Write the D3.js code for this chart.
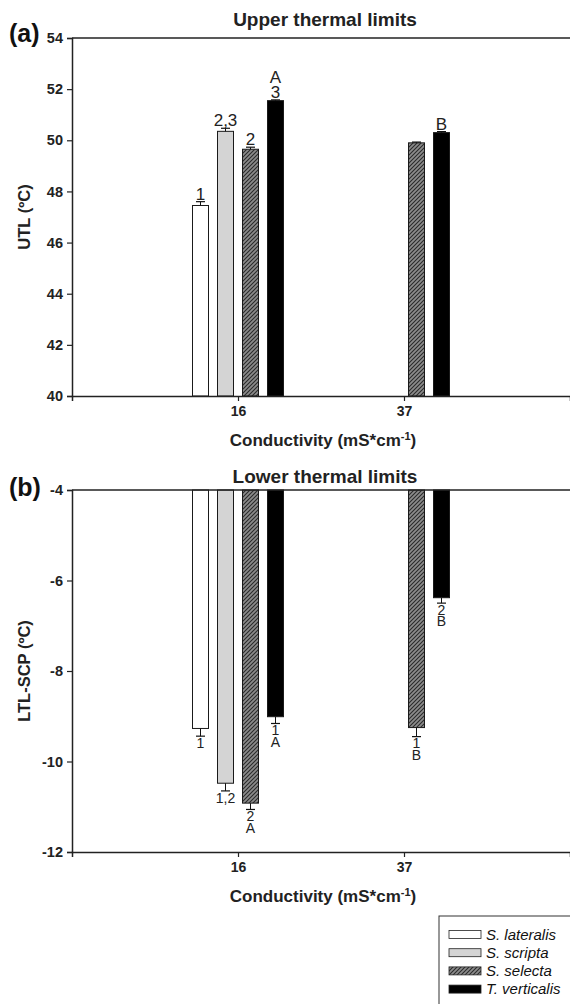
<!DOCTYPE html>
<html>
<head>
<meta charset="utf-8">
<script src="https://cdn.jsdelivr.net/npm/d3@7"></script>
<style>
  body { margin: 0; background: #fff; }
  svg { font-family: "Liberation Sans", Arial, sans-serif; }
</style>
</head>
<body>
<div id="chart"></div>
<script>
// data
var conductivity = [16, 37];
var species = ["S. lateralis", "S. scripta", "S. selecta", "T. verticalis"];

// upper thermal limits, one row per conductivity
var utlMean = [[47.45, 50.35, 49.65, 51.55], [null, null, 49.9, 50.3]];
var utlErr = [[0.15, 0.12, 0.08, 0.03], [null, null, 0.03, 0.04]];
var utlLabels = [[["1"], ["2,3"], ["2"], ["A", "3"]], [[], [], [], ["B"]]];
var utlTicks = [40, 42, 44, 46, 48, 50, 52, 54];

// lower thermal limits
var ltlMean = [[-9.27, -10.48, -10.92, -9.01], [null, null, -9.25, -6.38]];
var ltlErr = [[0.17, 0.17, 0.14, 0.15], [null, null, 0.2, 0.12]];
var ltlLabels = [[["1"], ["1,2"], ["2", "A"], ["1", "A"]], [[], [], ["1", "B"], ["2", "B"]]];
var ltlTicks = [-12, -10, -8, -6, -4];

var W = 570, H = 1004;
var svg = d3.select("#chart").append("svg")
  .attr("width", W).attr("height", H);

// hatch pattern for S. selecta
var defs = svg.append("defs");
var pat = defs.append("pattern")
  .attr("id", "hatch")
  .attr("patternUnits", "userSpaceOnUse")
  .attr("width", 4).attr("height", 4);
pat.append("rect").attr("width", 4).attr("height", 4).attr("fill", "#8c8c8c");
pat.append("path").attr("d", "M-1,1 l2,-2 M0,4 l4,-4 M3,5 l2,-2")
  .attr("stroke", "#2a2a2a").attr("stroke-width", 1.1);

var fills = ["#ffffff", "#d4d4d4", "url(#hatch)", "#000000"];

var left = 72, right = 570;
var x = d3.scaleLinear().domain([-5, 58]).range([left, right]);
var slot = d3.scaleBand().domain(d3.range(4)).range([-50, 50]).paddingInner(0.36).paddingOuter(0.18);

function drawPanel(opts) {
  var g = svg.append("g");
  var y = d3.scaleLinear().domain(opts.domain).range([opts.bottom, opts.top]);
  var base = opts.base;

  // bars
  conductivity.forEach(function(c, ci) {
    species.forEach(function(s, si) {
      var v = opts.mean[ci][si];
      if (v === null) return;
      var bx = x(c) + slot(si);
      var bw = slot.bandwidth();
      var y0 = y(base), y1 = y(v);
      g.append("rect")
        .attr("x", bx).attr("y", Math.min(y0, y1))
        .attr("width", bw).attr("height", Math.abs(y1 - y0))
        .attr("fill", fills[si])
        .attr("stroke", "#1a1a1a").attr("stroke-width", 1);
      // error bar
      var e = opts.err[ci][si];
      var ye = y(v + opts.dir * e);
      var cx = bx + bw / 2;
      g.append("line").attr("x1", cx).attr("x2", cx).attr("y1", y1).attr("y2", ye)
        .attr("stroke", "#111").attr("stroke-width", 1);
      g.append("line").attr("x1", cx - 4.5).attr("x2", cx + 4.5).attr("y1", ye).attr("y2", ye)
        .attr("stroke", "#111").attr("stroke-width", 1.2);
      // significance letters
      var lines = opts.labels[ci][si];
      lines.forEach(function(t, li) {
        var ty;
        if (opts.dir > 0) ty = ye - 2 - (lines.length - 1 - li) * opts.lineStep;
        else ty = ye + 1.5 + opts.fontSize * 0.74 + li * opts.lineStep;
        g.append("text").attr("x", cx).attr("y", ty)
          .attr("text-anchor", "middle")
          .attr("font-size", opts.fontSize + "px")
          .attr("fill", "#222")
          .text(t);
      });
    });
  });

  // frame lines
  g.append("line").attr("x1", left).attr("x2", right).attr("y1", opts.top).attr("y2", opts.top)
    .attr("stroke", "#222").attr("stroke-width", 1.5);

  var yAxis = d3.axisLeft(y).tickValues(opts.ticks).tickSize(5).tickPadding(4)
    .tickFormat(function(d) { return String(d); });
  var ya = g.append("g").attr("transform", "translate(" + left + ",0)").call(yAxis);
  ya.select(".domain").attr("stroke", "#222").attr("stroke-width", 1.5);
  ya.selectAll(".tick line").attr("stroke", "#222").attr("stroke-width", 1.2);
  ya.selectAll(".tick text").attr("font-size", "14.5px").attr("font-weight", "bold")
    .attr("fill", "#222").attr("font-family", "Liberation Sans, Arial, sans-serif");

  var xAxis = d3.axisBottom(x).tickValues(conductivity).tickSize(5).tickPadding(5)
    .tickFormat(function(d) { return String(d); });
  var xa = g.append("g").attr("transform", "translate(0," + opts.bottom + ")").call(xAxis);
  xa.select(".domain").attr("stroke", "#222").attr("stroke-width", 1.5);
  xa.selectAll(".tick line").attr("stroke", "#222").attr("stroke-width", 1.2);
  xa.selectAll(".tick text").attr("font-size", "14px").attr("font-weight", "bold")
    .attr("fill", "#222").attr("font-family", "Liberation Sans, Arial, sans-serif");

  // titles
  g.append("text").attr("x", 325).attr("y", opts.titleY)
    .attr("text-anchor", "middle").attr("font-size", "19px").attr("font-weight", "bold")
    .attr("fill", "#222").text(opts.title);
  g.append("text").attr("x", 9).attr("y", opts.tagY)
    .attr("font-size", "25px").attr("font-weight", "bold").attr("fill", "#111").text(opts.tag);

  var xt = g.append("text").attr("x", 323).attr("y", opts.bottom + 50)
    .attr("text-anchor", "middle").attr("font-size", "17px").attr("font-weight", "bold").attr("fill", "#222");
  xt.append("tspan").text("Conductivity (mS*cm");
  xt.append("tspan").attr("font-size", "11px").attr("dy", -6).text("-1");
  xt.append("tspan").attr("dy", 6).text(")");

  g.append("text")
    .attr("transform", "translate(30," + (opts.top + opts.bottom) / 2 + ") rotate(-90)")
    .attr("text-anchor", "middle").attr("font-size", "16.5px").attr("font-weight", "bold")
    .attr("fill", "#222").text(opts.ylabel);
}

drawPanel({
  top: 38, bottom: 396, domain: [40, 54], base: 40, dir: 1,
  mean: utlMean, err: utlErr, labels: utlLabels, ticks: utlTicks,
  fontSize: 17, lineStep: 15,
  title: "Upper thermal limits", titleY: 26, tag: "(a)", tagY: 42, ylabel: "UTL (ºC)"
});

drawPanel({
  top: 490, bottom: 852, domain: [-12, -4], base: -4, dir: -1,
  mean: ltlMean, err: ltlErr, labels: ltlLabels, ticks: ltlTicks,
  fontSize: 14, lineStep: 11.5,
  title: "Lower thermal limits", titleY: 483, tag: "(b)", tagY: 496, ylabel: "LTL-SCP (ºC)"
});

// legend
var lg = svg.append("g");
lg.append("rect").attr("x", 439).attr("y", 916).attr("width", 140).attr("height", 100)
  .attr("fill", "#fff").attr("stroke", "#333").attr("stroke-width", 1);
species.forEach(function(s, i) {
  var cy = 934.5 + i * 18.2;
  lg.append("rect").attr("x", 449).attr("y", cy - 4).attr("width", 32).attr("height", 8)
    .attr("fill", fills[i]).attr("stroke", "#222").attr("stroke-width", 0.8);
  lg.append("text").attr("x", 486).attr("y", cy + 5.3)
    .attr("font-size", "15px").attr("font-style", "italic").attr("fill", "#111").text(s);
});
</script>
</body>
</html>
